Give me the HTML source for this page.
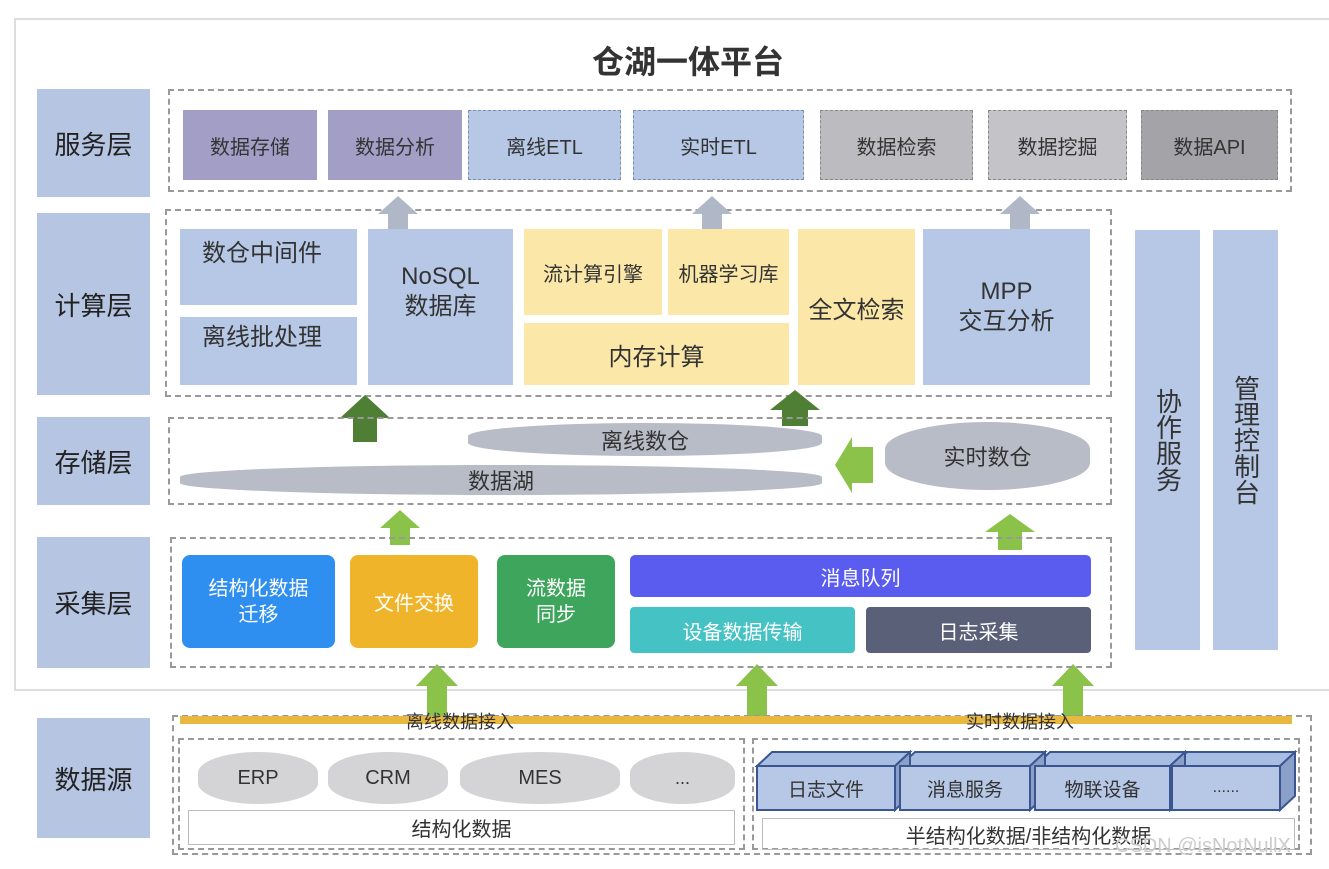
<!DOCTYPE html>
<html><head><meta charset="utf-8"><style>
body{margin:0;width:1329px;height:869px;background:#fff;position:relative;overflow:hidden;font-family:"Liberation Sans","Noto Sans CJK SC",sans-serif;color:#333}
div{position:absolute;box-sizing:border-box}
.c{display:flex;align-items:center;justify-content:center;text-align:center}
.lab{background:#b6c6e2;font-size:26px;color:#222}
.d{border:2px dashed #999}
.b{background:#b6c8e6}
.y{background:#fbe8a8}
.cyl{background:#b8bcc6;border-radius:50%/40%}
.ar{width:0;height:0}
</style></head><body>
<div style="left:14px;top:18px;width:1320px;height:673px;border:2px solid #ddd"></div>
<div class="c" style="left:488px;top:38px;width:400px;height:44px;font-size:32px;font-weight:bold;color:#333">仓湖一体平台</div>

<div class="lab c" style="left:37px;top:89px;width:113px;height:108px">服务层</div>
<div class="lab c" style="left:37px;top:213px;width:113px;height:182px">计算层</div>
<div class="lab c" style="left:37px;top:417px;width:113px;height:88px">存储层</div>
<div class="lab c" style="left:37px;top:537px;width:113px;height:131px">采集层</div>
<div class="lab c" style="left:37px;top:718px;width:113px;height:120px">数据源</div>

<div class="d" style="left:168px;top:89px;width:1124px;height:103px"></div>
<div class="c" style="left:183px;top:110px;width:134px;height:70px;background:#a39ec6;font-size:20px">数据存储</div>
<div class="c" style="left:328px;top:110px;width:134px;height:70px;background:#a39ec6;font-size:20px">数据分析</div>
<div class="c b" style="left:468px;top:110px;width:153px;height:70px;border:1px dashed #7890b8;font-size:20px">离线ETL</div>
<div class="c b" style="left:633px;top:110px;width:171px;height:70px;border:1px dashed #7890b8;font-size:20px">实时ETL</div>
<div class="c" style="left:820px;top:110px;width:153px;height:70px;background:#bcbcc0;border:1px dashed #888;font-size:20px">数据检索</div>
<div class="c" style="left:988px;top:110px;width:139px;height:70px;background:#c4c4c8;border:1px dashed #888;font-size:20px">数据挖掘</div>
<div class="c" style="left:1141px;top:110px;width:137px;height:70px;background:#a4a4a8;border:1px dashed #888;font-size:20px">数据API</div>

<div class="d" style="left:165px;top:209px;width:947px;height:188px"></div>
<div class="b" style="left:180px;top:229px;width:177px;height:76px;font-size:24px;padding:4px 0 0 22px">数仓中间件</div>
<div class="b" style="left:180px;top:317px;width:177px;height:68px;font-size:24px;padding:0 0 0 22px">离线批处理</div>
<div class="c b" style="left:368px;top:229px;width:145px;height:156px;font-size:24px;line-height:30px;padding-bottom:30px">NoSQL<br>数据库</div>
<div class="c y" style="left:524px;top:229px;width:138px;height:86px;font-size:20px">流计算引擎</div>
<div class="c y" style="left:668px;top:229px;width:121px;height:86px;font-size:20px">机器学习库</div>
<div class="c y" style="left:524px;top:323px;width:265px;height:62px;font-size:24px">内存计算</div>
<div class="c y" style="left:798px;top:229px;width:117px;height:156px;font-size:24px">全文检索</div>
<div class="c b" style="left:923px;top:229px;width:167px;height:156px;font-size:24px;line-height:30px">MPP<br>交互分析</div>

<!-- gray arrows -->
<svg style="position:absolute;left:0;top:0" width="1329" height="869">
<g fill="#b0b8c8">
<polygon points="378,214 398,196 418,214 408,214 408,229 388,229 388,214"/>
<polygon points="692,214 712,196 732,214 722,214 722,229 702,229 702,214"/>
<polygon points="1000,214 1020,196 1040,214 1030,214 1030,229 1010,229 1010,214"/>
</g>
<g fill="#4f7f34">
<polygon points="340,418 365,395 390,418 377,418 377,442 353,442 353,418"/>
<polygon points="770,410 795,390 820,410 808,410 808,426 782,426 782,410"/>
</g>
<g fill="#8bc34a">
<polygon points="380,528 400,510 420,528 410,528 410,545 390,545 390,528"/>
<polygon points="985,532 1010,514 1035,532 1022,532 1022,550 998,550 998,532"/>
<polygon points="416,686 437,664 458,686 447,686 447,716 427,716 427,686"/>
<polygon points="736,686 757,664 778,686 767,686 767,716 747,716 747,686"/>
<polygon points="1052,686 1073,664 1094,686 1083,686 1083,716 1063,716 1063,686"/>
<polygon points="835,465 852,437 852,447 873,447 873,483 852,483 852,493"/>
</g>
</svg>

<div class="d" style="left:168px;top:417px;width:944px;height:88px"></div>
<div class="c cyl" style="left:468px;top:423px;width:354px;height:33px;font-size:22px">离线数仓</div>
<div class="c cyl" style="left:180px;top:465px;width:642px;height:30px;font-size:22px">数据湖</div>
<div class="c cyl" style="left:885px;top:422px;width:205px;height:68px;font-size:22px">实时数仓</div>

<div class="d" style="left:170px;top:537px;width:942px;height:131px"></div>
<div class="c" style="left:182px;top:555px;width:153px;height:93px;background:#2e8ff0;color:#fff;font-size:20px;border-radius:8px;line-height:26px">结构化数据<br>迁移</div>
<div class="c" style="left:350px;top:555px;width:128px;height:93px;background:#f0b42a;color:#fff;font-size:20px;border-radius:8px">文件交换</div>
<div class="c" style="left:497px;top:555px;width:118px;height:93px;background:#3ea55c;color:#fff;font-size:20px;border-radius:8px;line-height:26px">流数据<br>同步</div>
<div class="c" style="left:630px;top:555px;width:461px;height:42px;background:#5a5cf0;color:#fff;font-size:20px;border-radius:5px">消息队列</div>
<div class="c" style="left:630px;top:607px;width:225px;height:46px;background:#44c2c4;color:#fff;font-size:20px;border-radius:4px">设备数据传输</div>
<div class="c" style="left:866px;top:607px;width:225px;height:46px;background:#5a6078;color:#fff;font-size:20px;border-radius:4px">日志采集</div>

<div class="c b" style="left:1135px;top:230px;width:65px;height:420px;font-size:26px;line-height:30px;writing-mode:vertical-rl">协作服务</div>
<div class="c b" style="left:1213px;top:230px;width:65px;height:420px;font-size:26px;line-height:30px;writing-mode:vertical-rl">管理控制台</div>

<!-- data source -->
<div class="d" style="left:172px;top:715px;width:1140px;height:140px"></div>
<div style="left:180px;top:716px;width:1112px;height:8px;background:#e8b840"></div>
<div style="left:390px;top:708px;width:140px;font-size:18px;text-align:center">离线数据接入</div>
<div style="left:950px;top:708px;width:140px;font-size:18px;text-align:center">实时数据接入</div>
<div class="d" style="left:178px;top:738px;width:567px;height:112px"></div>
<div class="c cyl" style="left:198px;top:752px;width:120px;height:52px;background:#d4d4d6;font-size:20px">ERP</div>
<div class="c cyl" style="left:328px;top:752px;width:120px;height:52px;background:#d4d4d6;font-size:20px">CRM</div>
<div class="c cyl" style="left:460px;top:752px;width:160px;height:52px;background:#d4d4d6;font-size:20px">MES</div>
<div class="c cyl" style="left:630px;top:752px;width:105px;height:52px;background:#d4d4d6;font-size:18px">...</div>
<div class="c" style="left:188px;top:810px;width:547px;height:35px;border:1px solid #bbb;font-size:20px">结构化数据</div>
<div class="d" style="left:752px;top:738px;width:548px;height:112px"></div>
<svg style="position:absolute;left:0;top:0" width="1329" height="869">
<g stroke="#3a5590" stroke-width="2">
<g fill="#a8bde2"><polygon points="757,766 772,752 910,752 895,766"/><polygon points="900,766 915,752 1045,752 1030,766"/><polygon points="1035,766 1050,752 1185,752 1170,766"/><polygon points="1172,766 1187,752 1295,752 1280,766"/></g>
<g fill="#8aa0c8"><polygon points="895,766 910,752 910,796 895,810"/><polygon points="1030,766 1045,752 1045,796 1030,810"/><polygon points="1170,766 1185,752 1185,796 1170,810"/><polygon points="1280,766 1295,752 1295,796 1280,810"/></g>
<g fill="#b6c8e6"><rect x="757" y="766" width="138" height="44"/><rect x="900" y="766" width="130" height="44"/><rect x="1035" y="766" width="135" height="44"/><rect x="1172" y="766" width="108" height="44"/></g>
</g>
</svg>
<div class="c" style="left:757px;top:766px;width:138px;height:44px;font-size:19px">日志文件</div>
<div class="c" style="left:900px;top:766px;width:130px;height:44px;font-size:19px">消息服务</div>
<div class="c" style="left:1035px;top:766px;width:135px;height:44px;font-size:19px">物联设备</div>
<div class="c" style="left:1172px;top:766px;width:108px;height:44px;font-size:16px">......</div>
<div class="c" style="left:762px;top:818px;width:533px;height:32px;border:1px solid #bbb;font-size:20px">半结构化数据/非结构化数据</div>
<div style="left:1115px;top:835px;font-size:20px;color:#ccc">CSDN @isNotNullX</div>
</body></html>
